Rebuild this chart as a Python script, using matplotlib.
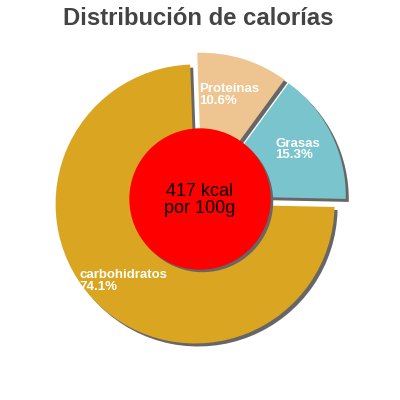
import matplotlib
matplotlib.use("Agg")
import matplotlib.pyplot as plt
from matplotlib.patches import Circle

# Data
categories = ["Proteínas", "Grasas", "carbohidratos"]
percentages = [10.6, 15.3, 74.1]
colors = ["#EEC591", "#7AC5CD", "#DAA520"]
center_lines = ["417 kcal", "por 100g"]
title = "Distribución de calorías"

plt.rcParams['font.family'] = ['Liberation Sans', 'DejaVu Sans']

fig = plt.figure(figsize=(4, 4), dpi=100)
ax = fig.add_axes([0, 0, 1, 1])

H = 400
cx, cy = 200, H - 199
R = 139.5
explode = [7.0] * len(percentages)   # offset in pixels (data units)
start = 92
sh = 3.0

# shadow pie
ax.pie(percentages, colors=["#666666"] * 3, explode=explode, startangle=start,
       counterclock=False, radius=R, center=(cx + sh, cy - sh), frame=True,
       wedgeprops=dict(linewidth=0))
# main pie
ax.pie(percentages, colors=colors, explode=explode, startangle=start,
       counterclock=False, radius=R, center=(cx, cy), frame=True,
       wedgeprops=dict(linewidth=0))
ax.set_xlim(0, 400)
ax.set_ylim(0, 400)
ax.set_aspect('equal')
ax.axis('off')

# center circle
ax.add_patch(Circle((cx + 2.5, cy - 2.5), 70, color="#666666", zorder=5))
ax.add_patch(Circle((cx, cy), 70, color="#FF0000", zorder=6))
ax.text(200, H - 196, center_lines[0], ha='center', va='baseline',
        fontsize=13, color='black', zorder=7)
ax.text(200, H - 212.7, center_lines[1], ha='center', va='baseline',
        fontsize=13, color='black', zorder=7)

# slice labels (pixel positions of label baselines)
label_pos = [(199.3, 92.0), (275.3, 146.7), (79.3, 278.3)]
for name, pct, (lx, ly) in zip(categories, percentages, label_pos):
    ax.text(lx, H - ly, name, ha='left', va='baseline', fontsize=9.5,
            fontweight='bold', color='white', zorder=4)
    ax.text(lx, H - ly - 11.5, f"{pct}%", ha='left', va='baseline',
            fontsize=9.5, fontweight='bold', color='white', zorder=4)

ax.text(198.5, H - 25, title, ha='center', va='baseline', fontsize=17.2,
        fontweight='bold', color='#444444')

fig.savefig("out.png", dpi=100)
